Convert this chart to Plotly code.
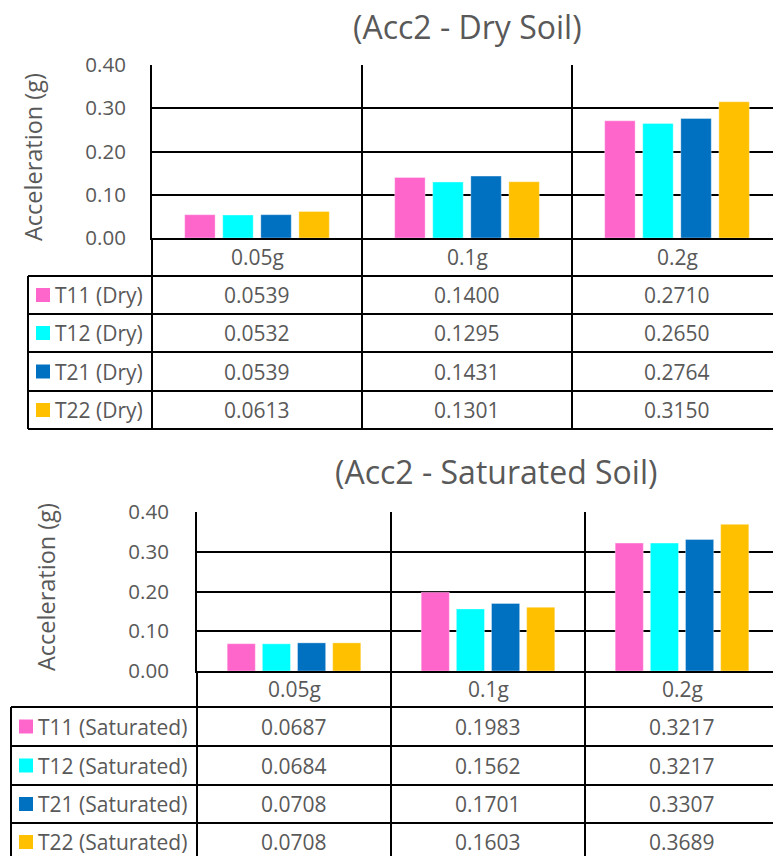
import plotly.graph_objects as go

# ---- data ----
loads = ["0.05g", "0.1g", "0.2g"]
colors = ["#FF66CC", "#00FFFF", "#0070C0", "#FFC000"]

dry_names = ["T11 (Dry)", "T12 (Dry)", "T21 (Dry)", "T22 (Dry)"]
dry_t11 = [0.0539, 0.1400, 0.2710]
dry_t12 = [0.0532, 0.1295, 0.2650]
dry_t21 = [0.0539, 0.1431, 0.2764]
dry_t22 = [0.0613, 0.1301, 0.3150]

sat_names = ["T11 (Saturated)", "T12 (Saturated)", "T21 (Saturated)", "T22 (Saturated)"]
sat_t11 = [0.0687, 0.1983, 0.3217]
sat_t12 = [0.0684, 0.1562, 0.3217]
sat_t21 = [0.0708, 0.1701, 0.3307]
sat_t22 = [0.0708, 0.1603, 0.3689]

y_ticks = [0.0, 0.1, 0.2, 0.3, 0.4]

# ---- page geometry (pixels) ----
W, H = 773, 856
FONT = "Open Sans"
GREY = "#595959"
LW = 2


def fx(p):
    return p / W


def fy(p):
    return 1 - p / H


panels = [
    dict(title="(Acc2 - Dry Soil)", names=dry_names,
         series=[dry_t11, dry_t12, dry_t21, dry_t22],
         xa="x", ya="y", left=152, top=65, bottom=238, cat_w=210,
         rows=[238, 276, 314, 352, 391, 429], leg_left=28,
         title_xy=(468, 27), ytitle_xy=(33, 157), ticklen=20, sw_x=36),
    dict(title="(Acc2 - Saturated Soil)", names=sat_names,
         series=[sat_t11, sat_t12, sat_t21, sat_t22],
         xa="x2", ya="y2", left=197, top=512, bottom=671, cat_w=194,
         rows=[671, 707, 746, 785, 823, 861], leg_left=11,
         title_xy=(496, 471), ytitle_xy=(46, 587), ticklen=22, sw_x=19),
]

fig = go.Figure()
shapes = []
annotations = []
xpos = list(range(len(loads)))

for k, p in enumerate(panels):
    # grouped bars
    for name, vals, col in zip(p["names"], p["series"], colors):
        fig.add_trace(go.Bar(
            x=xpos, y=vals, name=name, xaxis=p["xa"], yaxis=p["ya"],
            marker=dict(color=col, line=dict(color="rgba(255,255,255,0.35)", width=1)),
            showlegend=False, hoverinfo="name+y",
        ))

    sfx = "" if k == 0 else str(k + 1)
    xr = -0.5 + (W - p["left"]) / p["cat_w"]
    fig.update_layout(**{
        "xaxis" + sfx: dict(
            domain=[fx(p["left"]), 1], range=[-0.5, xr], anchor=p["ya"],
            showticklabels=False, ticks="", showgrid=False, zeroline=False,
            showline=True, linecolor="black", linewidth=LW, fixedrange=True,
            automargin=False,
        ),
        "yaxis" + sfx: dict(
            domain=[fy(p["bottom"]), fy(p["top"])], range=[0, 0.4], anchor=p["xa"],
            tickvals=y_ticks, tickformat=".2f", ticks="outside", ticklen=p["ticklen"],
            tickcolor="rgba(0,0,0,0)", tickfont=dict(family=FONT, size=20.5, color=GREY),
            showgrid=True, gridcolor="black", gridwidth=LW, zeroline=False,
            showline=True, linecolor="black", linewidth=LW, fixedrange=True,
            automargin=False,
        ),
    })

    xref = p["xa"]
    rows = p["rows"]
    tbl_bottom = rows[-1]

    # vertical rules: plot left edge down through the table, category dividers
    shapes.append(dict(type="line", xref="paper", yref="paper",
                       x0=fx(p["left"]), x1=fx(p["left"]), y0=fy(p["bottom"]), y1=fy(tbl_bottom),
                       line=dict(color="black", width=LW)))
    for i in range(len(loads) - 1):
        shapes.append(dict(type="line", xref=xref, yref="paper",
                           x0=i + 0.5, x1=i + 0.5, y0=fy(p["top"]), y1=fy(tbl_bottom),
                           line=dict(color="black", width=LW)))
    # legend column left edge
    shapes.append(dict(type="line", xref="paper", yref="paper",
                       x0=fx(p["leg_left"]), x1=fx(p["leg_left"]), y0=fy(rows[1]), y1=fy(tbl_bottom),
                       line=dict(color="black", width=LW)))
    # horizontal row rules
    for r in rows[1:]:
        shapes.append(dict(type="line", xref="paper", yref="paper",
                           x0=fx(p["leg_left"]), x1=1, y0=fy(r), y1=fy(r),
                           line=dict(color="black", width=LW)))

    # category labels
    cy = (rows[0] + rows[1]) / 2
    for i, lab in enumerate(loads):
        annotations.append(dict(x=i, y=fy(cy), xref=xref, yref="paper", text=lab,
                                showarrow=False, xanchor="center", yanchor="middle",
                                font=dict(family=FONT, size=21, color=GREY)))

    # data rows
    for j, (name, vals, col) in enumerate(zip(p["names"], p["series"], colors)):
        ry = (rows[j + 1] + rows[j + 2]) / 2
        shapes.append(dict(type="rect", xref="paper", yref="paper",
                           x0=fx(p["sw_x"]), x1=fx(p["sw_x"] + 14),
                           y0=fy(ry - 7), y1=fy(ry + 7),
                           fillcolor=col, line=dict(width=0)))
        annotations.append(dict(x=fx(p["sw_x"] + 17), y=fy(ry), xref="paper", yref="paper",
                                text=name, showarrow=False, xanchor="left", yanchor="middle",
                                font=dict(family=FONT, size=21, color=GREY)))
        for i, v in enumerate(vals):
            annotations.append(dict(x=i, y=fy(ry), xref=xref, yref="paper",
                                    text=f"{v:.4f}", showarrow=False,
                                    xanchor="center", yanchor="middle",
                                    font=dict(family=FONT, size=21, color=GREY)))

    # chart title and y-axis title
    tx, ty = p["title_xy"]
    annotations.append(dict(x=fx(tx), y=fy(ty), xref="paper", yref="paper", text=p["title"],
                            showarrow=False, xanchor="center", yanchor="middle",
                            font=dict(family=FONT, size=32, color=GREY)))
    ax, ay = p["ytitle_xy"]
    annotations.append(dict(x=fx(ax), y=fy(ay), xref="paper", yref="paper",
                            text="Acceleration (g)", textangle=-90, showarrow=False,
                            xanchor="center", yanchor="middle",
                            font=dict(family=FONT, size=23.5, color=GREY)))

fig.update_layout(
    width=W, height=H, margin=dict(l=0, r=0, t=0, b=0, pad=0, autoexpand=False),
    paper_bgcolor="white", plot_bgcolor="white",
    barmode="group", bargap=0.275, bargroupgap=0.2,
    shapes=shapes, annotations=annotations,
    font=dict(family=FONT, color=GREY),
)

fig.write_html("out.html", config={"displayModeBar": False})
